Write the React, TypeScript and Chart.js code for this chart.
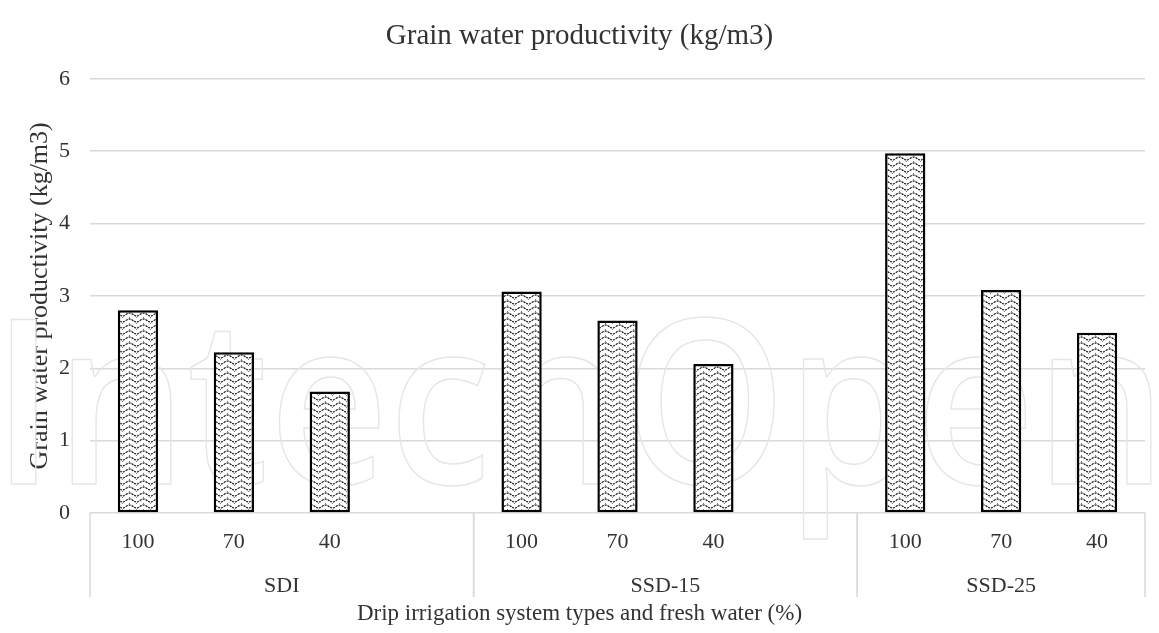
import React, { useEffect, useRef } from 'react';
import { Chart, registerables } from 'chart.js';

Chart.register(...registerables);

const chartTitle = 'Grain water productivity (kg/m3)';
const yAxisTitle = 'Grain water productivity (kg/m3)';
const xAxisTitle = 'Drip irrigation system types and fresh water (%)';
const freshWaterLabels = ['100', '70', '40', '', '100', '70', '40', '', '100', '70', '40'];
const systemGroups = ['SDI', 'SSD-15', 'SSD-25'];
const groupFirstIndex = [0, 4, 8];
const groupLastIndex = [3, 7, 10];
const productivity = [2.8, 2.22, 1.68, null, 3.06, 2.66, 2.06, null, 4.97, 3.08, 2.49];
const yMin = 0;
const yMax = 6;
const yStep = 1;
const watermarkText = 'IntechOpen';

const SERIF = "'Liberation Serif', 'Times New Roman', serif";
const GRID = '#d9d9d9';
const TEXT = '#333333';

function makePattern(): CanvasPattern | string {
  const c = document.createElement('canvas');
  c.width = 14;
  c.height = 6;
  const g = c.getContext('2d');
  if (!g) return '#888';
  g.fillStyle = '#ffffff';
  g.fillRect(0, 0, 14, 6);
  g.strokeStyle = '#111111';
  g.lineWidth = 1.2;
  g.setLineDash([2, 1]);
  g.beginPath();
  for (let x = 0; x <= 14; x += 0.5) {
    const y = 2.5 - 1.5 * Math.sin((2 * Math.PI * x) / 14);
    if (x === 0) g.moveTo(x, y);
    else g.lineTo(x, y);
  }
  g.stroke();
  g.fillStyle = '#777777';
  g.fillRect(3, 5, 1, 1);
  g.fillRect(10, 5, 1, 1);
  g.fillRect(7, 2, 1, 1);
  return g.createPattern(c, 'repeat') || '#888';
}

const watermarkPlugin = {
  id: 'watermark',
  beforeDatasetsDraw(chart: any) {
    const ctx = chart.ctx as CanvasRenderingContext2D;
    ctx.save();
    const size = 231;
    ctx.font = `600 ${size}px 'Open Sans', sans-serif`;
    const w = ctx.measureText(watermarkText).width;
    const sx = 1175 / w;
    ctx.translate(-8, 484);
    ctx.scale(sx, 1);
    ctx.strokeStyle = '#e6e6e6';
    ctx.lineWidth = 1.5;
    ctx.textAlign = 'left';
    ctx.textBaseline = 'alphabetic';
    ctx.strokeText(watermarkText, 0, 0);
    ctx.restore();
  },
};

const groupAxisPlugin = {
  id: 'groupAxis',
  afterDraw(chart: any) {
    const ctx = chart.ctx as CanvasRenderingContext2D;
    const x = chart.scales.x;
    const top = chart.chartArea.bottom;
    const step = x.getPixelForValue(1) - x.getPixelForValue(0);
    ctx.save();
    ctx.strokeStyle = GRID;
    ctx.lineWidth = 1.5;
    ctx.fillStyle = TEXT;
    ctx.font = `22px ${SERIF}`;
    ctx.textAlign = 'center';
    ctx.textBaseline = 'middle';
    systemGroups.forEach((name, i) => {
      const l = x.getPixelForValue(groupFirstIndex[i]) - step / 2;
      const r = x.getPixelForValue(groupLastIndex[i]) + step / 2;
      [l, r].forEach((px) => {
        ctx.beginPath();
        ctx.moveTo(px, top);
        ctx.lineTo(px, top + 84);
        ctx.stroke();
      });
      ctx.fillText(name, (l + r) / 2, top + 73);
    });
    ctx.font = `23px ${SERIF}`;
    ctx.fillText(xAxisTitle, chart.width / 2, chart.height - 19);
    ctx.restore();
  },
};

export default function App() {
  const ref = useRef<HTMLCanvasElement>(null);
  useEffect(() => {
    if (!ref.current) return;
    const pattern = makePattern();
    const chart = new Chart(ref.current, {
      type: 'bar',
      data: {
        labels: freshWaterLabels,
        datasets: [
          {
            data: productivity as any,
            backgroundColor: pattern as any,
            borderColor: '#000000',
            borderWidth: 2.5,
            borderSkipped: false,
            categoryPercentage: 0.42,
            barPercentage: 1,
            yAxisID: 'y',
          },
        ],
      },
      options: {
        animation: false,
        responsive: true,
        maintainAspectRatio: false,
        layout: { padding: 0 },
        plugins: {
          legend: { display: false },
          tooltip: { enabled: false },
          title: {
            display: true,
            text: chartTitle,
            color: TEXT,
            font: { family: SERIF, size: 29, weight: 'normal' },
            padding: { top: 19, bottom: 25 },
          },
        },
        scales: {
          x: {
            grid: { display: false, drawTicks: false },
            border: { display: false },
            ticks: {
              color: TEXT,
              font: { family: SERIF, size: 22 },
              padding: 16,
              maxRotation: 0,
              autoSkip: false,
            },
            afterFit: (s: any) => {
              s.height = 120;
            },
          },
          y: {
            position: 'left',
            min: yMin,
            max: yMax,
            grid: { color: GRID, lineWidth: 1.5, drawTicks: false },
            border: { display: false },
            ticks: {
              stepSize: yStep,
              color: TEXT,
              font: { family: SERIF, size: 22 },
              padding: 20,
            },
            title: {
              display: true,
              text: yAxisTitle,
              color: TEXT,
              font: { family: SERIF, size: 26 },
              padding: { top: 25, bottom: 0 },
            },
            afterFit: (s: any) => {
              s.width = 90;
            },
          },
          yRight: {
            position: 'right',
            min: yMin,
            max: yMax,
            grid: { display: false, drawTicks: false },
            border: { display: false },
            ticks: { display: false },
            afterFit: (s: any) => {
              s.width = 14;
            },
          },
        },
      },
      plugins: [watermarkPlugin, groupAxisPlugin],
    });
    return () => chart.destroy();
  }, []);
  return (
    <div style={{ position: 'fixed', left: 0, top: 0, width: 1159, height: 633, background: '#ffffff' }}>
      <canvas ref={ref} />
    </div>
  );
}
